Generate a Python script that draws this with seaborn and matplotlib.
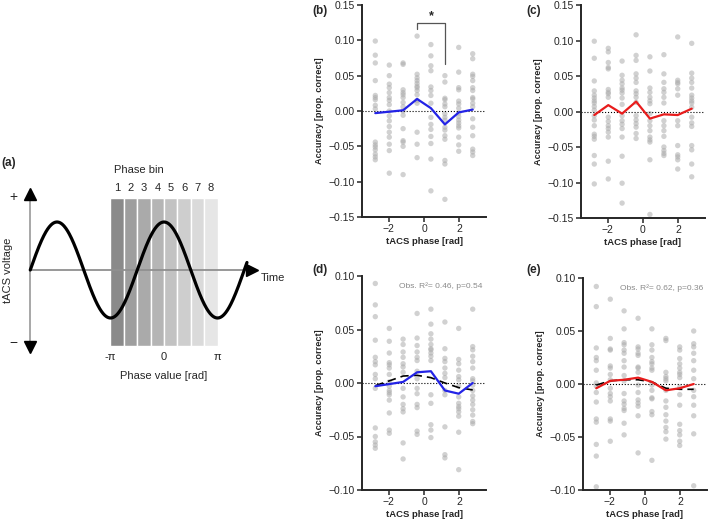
import numpy as np
import pandas as pd
import matplotlib
matplotlib.use('Agg')
import matplotlib.pyplot as plt
import seaborn as sns

# phase bin centres (rad) and schematic bin shading
phase_bins = [-2.75, -1.96, -1.18, -0.39, 0.39, 1.18, 1.96, 2.75]
bin_labels = ['1', '2', '3', '4', '5', '6', '7', '8']
bin_grays = ['#8a8a8a', '#9e9e9e', '#aaaaaa', '#b5b5b5', '#c2c2c2', '#cecece', '#dadada', '#e6e6e6']

# (b) single participants per phase bin, and group mean
b_points = [
    [0.099, 0.079, 0.068, 0.043, 0.022, 0.019, 0.016, 0.008, 0.003, -0.044, -0.048, -0.051, -0.055, -0.061, -0.065, -0.069],
    [0.065, 0.050, 0.038, 0.033, 0.026, 0.019, 0.015, 0.009, 0.0, -0.007, -0.014, -0.022, -0.030, -0.037, -0.047, -0.056, -0.088],
    [0.068, 0.066, 0.030, 0.026, 0.023, 0.019, 0.012, 0.006, 0.0, -0.006, -0.025, -0.042, -0.044, -0.050, -0.090],
    [0.106, 0.052, 0.047, 0.043, 0.039, 0.035, 0.033, 0.029, 0.023, 0.015, 0.011, -0.030, -0.047, -0.066],
    [0.094, 0.078, 0.064, 0.057, 0.034, 0.029, 0.022, 0.011, -0.009, -0.019, -0.026, -0.036, -0.046, -0.068, -0.113],
    [0.050, 0.041, 0.018, 0.016, 0.010, 0.006, -0.004, -0.009, -0.013, -0.023, -0.027, -0.035, -0.040, -0.070, -0.075, -0.125],
    [0.090, 0.055, 0.033, 0.030, 0.014, 0.010, 0.004, -0.003, -0.008, -0.013, -0.017, -0.021, -0.024, -0.037, -0.048, -0.057],
    [0.081, 0.074, 0.052, 0.049, 0.043, 0.033, 0.029, 0.019, 0.017, 0.011, 0.006, -0.011, -0.023, -0.035, -0.054, -0.058, -0.063],
]
b_mean = [-0.003, -0.001, 0.001, 0.017, 0.004, -0.019, -0.002, 0.002]

# (c)
c_points = [
    [0.099, 0.075, 0.043, 0.029, 0.023, 0.019, 0.015, 0.012, 0.007, 0.002, -0.006, -0.012, -0.020, -0.032, -0.035, -0.039, -0.062, -0.074, -0.102],
    [0.089, 0.084, 0.069, 0.062, 0.060, 0.031, 0.027, 0.025, 0.020, -0.008, -0.014, -0.020, -0.024, -0.029, -0.036, -0.070, -0.095],
    [0.071, 0.051, 0.044, 0.039, 0.033, 0.030, 0.026, 0.019, 0.010, -0.006, -0.013, -0.018, -0.024, -0.036, -0.063, -0.101, -0.129],
    [0.108, 0.079, 0.072, 0.053, 0.047, 0.041, 0.029, 0.025, 0.020, 0.013, -0.006, -0.012, -0.017, -0.022, -0.031, -0.038],
    [0.077, 0.057, 0.033, 0.027, 0.020, 0.015, 0.011, -0.003, -0.013, -0.020, -0.027, -0.036, -0.040, -0.043, -0.068, -0.145],
    [0.080, 0.053, 0.041, 0.032, 0.027, 0.020, 0.012, -0.013, -0.020, -0.027, -0.035, -0.050, -0.055, -0.059, -0.062],
    [0.105, 0.044, 0.041, 0.039, 0.032, 0.023, -0.013, -0.020, -0.048, -0.061, -0.064, -0.068, -0.081],
    [0.096, 0.054, 0.047, 0.041, 0.033, 0.023, 0.019, 0.015, 0.012, 0.006, -0.008, -0.016, -0.021, -0.048, -0.054, -0.074, -0.092],
]
c_mean = [-0.005, 0.009, -0.003, 0.014, -0.010, -0.004, -0.005, 0.004]

# (d)
d_points = [
    [0.093, 0.073, 0.062, 0.040, 0.024, 0.020, 0.017, 0.008, 0.004, -0.005, -0.042, -0.050, -0.055, -0.058, -0.061],
    [0.051, 0.039, 0.028, 0.019, 0.017, 0.014, 0.008, 0.001, -0.003, -0.007, -0.009, -0.011, -0.016, -0.028, -0.044, -0.047],
    [0.041, 0.036, 0.029, 0.024, 0.018, 0.015, 0.010, -0.005, -0.013, -0.020, -0.024, -0.027, -0.056, -0.071],
    [0.065, 0.042, 0.035, 0.029, 0.024, 0.021, 0.011, 0.004, -0.005, -0.010, -0.020, -0.023, -0.045, -0.048],
    [0.069, 0.055, 0.046, 0.041, 0.036, 0.032, 0.031, 0.028, 0.025, 0.021, -0.011, -0.019, -0.039, -0.044, -0.051],
    [0.057, 0.032, 0.023, 0.020, 0.014, 0.009, 0.005, -0.007, -0.011, -0.041, -0.067, -0.070],
    [0.051, 0.022, 0.018, 0.012, 0.006, 0.003, -0.003, -0.013, -0.019, -0.022, -0.024, -0.027, -0.031, -0.046, -0.081],
    [0.069, 0.034, 0.031, 0.025, 0.020, 0.014, 0.004, 0.002, -0.002, -0.007, -0.012, -0.016, -0.020, -0.025, -0.030, -0.036, -0.038],
]
d_mean = [-0.003, -0.001, 0.001, 0.010, 0.011, -0.007, -0.010, 0.000]
d_fit = [-0.0025, 0.002, 0.0065, 0.0072, 0.005, 0.000, -0.0043, -0.0065]
d_stats = 'Obs. R²= 0.46, p=0.54'

# (e)
e_points = [
    [0.092, 0.073, 0.034, 0.025, 0.022, 0.013, 0.001, -0.002, -0.008, -0.017, -0.033, -0.036, -0.057, -0.068, -0.097],
    [0.080, 0.043, 0.033, 0.032, 0.017, 0.015, 0.009, 0.004, -0.004, -0.009, -0.012, -0.016, -0.033, -0.035, -0.054],
    [0.069, 0.052, 0.039, 0.037, 0.032, 0.029, 0.022, 0.016, 0.008, 0.003, -0.009, -0.016, -0.019, -0.023, -0.025, -0.037, -0.048],
    [0.062, 0.035, 0.033, 0.029, 0.027, 0.016, 0.015, 0.011, -0.001, -0.008, -0.015, -0.018, -0.021, -0.030, -0.065],
    [0.052, 0.037, 0.032, 0.025, 0.021, 0.019, 0.015, 0.013, -0.001, -0.006, -0.013, -0.014, -0.026, -0.029, -0.072],
    [0.043, 0.041, 0.011, 0.007, 0.005, 0.003, -0.006, -0.016, -0.022, -0.029, -0.035, -0.041, -0.045, -0.052],
    [0.035, 0.032, 0.024, 0.019, 0.015, 0.011, 0.009, 0.006, -0.003, -0.010, -0.020, -0.038, -0.044, -0.048, -0.054, -0.058],
    [0.050, 0.038, 0.035, 0.029, 0.022, 0.013, 0.005, -0.006, -0.012, -0.020, -0.030, -0.047, -0.096],
]
e_mean = [-0.004, 0.003, 0.004, 0.006, 0.002, -0.006, -0.004, 0.000]
e_fit = [-0.001, 0.003, 0.004, 0.004, 0.002, -0.004, -0.005, -0.005]
e_stats = 'Obs. R²= 0.62, p=0.36'

# significance bracket between bin 4 and bin 6 in (b)
sig_pair = (3, 5)
sig_top, sig_left_end, sig_right_end = 0.1245, 0.116, 0.0665

sns.set_style('ticks')
plt.rcParams['font.family'] = ['Liberation Sans', 'DejaVu Sans']
plt.rcParams['axes.unicode_minus'] = True

fig = plt.figure(figsize=(7.09, 5.2), dpi=100)


def to_frame(points):
    rows = [(phase_bins[i], v) for i, vals in enumerate(points) for v in vals]
    return pd.DataFrame(rows, columns=['phase', 'acc'])


def draw_panel(rect, points, mean, color, lim, step, fit=None, stats=None):
    ax = fig.add_axes(rect)
    df = to_frame(points)
    sns.scatterplot(data=df, x='phase', y='acc', ax=ax, color='#acacac', alpha=0.55,
                    s=15, edgecolor='none', zorder=1, legend=False)
    ax.axhline(0, color='k', ls=':', lw=0.8, zorder=2)
    if fit is not None:
        ax.plot(phase_bins, fit, color='k', ls=(0, (5, 3)), lw=1.2, zorder=3)
    sns.lineplot(x=phase_bins, y=mean, ax=ax, color=color, lw=1.6, zorder=4)
    ax.set_xlim(-3.5, 3.5)
    ax.set_ylim(-lim, lim)
    ax.set_xticks([-2, 0, 2])
    ax.set_yticks(np.arange(-lim, lim + step / 2, step))
    ax.set_xlabel('tACS phase [rad]', fontsize=6.8, fontweight='bold', labelpad=2)
    ax.set_ylabel('Accuracy [prop. correct]', fontsize=6.6, fontweight='bold')
    ax.yaxis.set_label_coords(-0.31, 0.5)
    ax.tick_params(labelsize=7.5, length=3.5, width=1.1, pad=1.5)
    for s in ['left', 'bottom']:
        ax.spines[s].set_linewidth(1.4)
    sns.despine(ax=ax)
    if stats is not None:
        ax.text(0.97, 0.97, stats, transform=ax.transAxes, ha='right', va='top',
                fontsize=6, color='#8a8a8a')
    return ax


W, H = 709.0, 520.0


def rect(left, top, right, bottom):
    return [left / W, 1 - bottom / H, (right - left) / W, (bottom - top) / H]


ax_b = draw_panel(rect(362, 5, 486, 217), b_points, b_mean, '#2323e6', 0.15, 0.05)
ax_c = draw_panel(rect(581, 5, 705, 218), c_points, c_mean, '#e81c1c', 0.15, 0.05)
ax_d = draw_panel(rect(362, 276, 486, 490), d_points, d_mean, '#2323e6', 0.10, 0.05,
                  fit=d_fit, stats=d_stats)
ax_e = draw_panel(rect(583, 278, 707, 490), e_points, e_mean, '#e81c1c', 0.10, 0.05,
                  fit=e_fit, stats=e_stats)

# significance bracket
x1, x2 = phase_bins[sig_pair[0]], phase_bins[sig_pair[1]]
ax_b.plot([x1, x1, x2, x2], [sig_left_end, sig_top, sig_top, sig_right_end],
          color='#555555', lw=0.9, zorder=5)
ax_b.text((x1 + x2) / 2, sig_top + 0.001, '*', ha='center', va='bottom',
          fontsize=9, fontweight='bold')

# panel letters
for lab, px, py in [('(b)', 312, 11), ('(c)', 526, 11), ('(d)', 312, 270), ('(e)', 526, 270)]:
    fig.text(px / W, 1 - py / H, lab, fontsize=8.5, fontweight='bold', ha='left', va='center')

# (a) schematic of tACS phase bins
ax_a = fig.add_axes(rect(0, 150, 310, 390))
ax_a.set_xlim(-9.63, 8.57)
ax_a.set_ylim(-2.5, 2.5)
ax_a.axis('off')

x0 = -2.5 * np.pi
bin_w = np.pi / 4
ax_a.bar(phase_bins, 3.08, bottom=-1.58, width=bin_w, color=bin_grays,
         edgecolor='white', linewidth=1.0, zorder=1)
ax_a.plot([x0, x0], [-1.6, 1.6], color='#a0a0a0', lw=1.3, zorder=2)
ax_a.plot([x0, 5.2], [0, 0], color='#909090', lw=1.3, zorder=2)
ax_a.plot(x0, 1.58, marker='^', color='k', ms=8, zorder=3)
ax_a.plot(x0, -1.6, marker='v', color='k', ms=8, zorder=3)
ax_a.plot(5.15, 0, marker='>', color='k', ms=8, zorder=3)

t = np.linspace(x0, 1.55 * np.pi, 500)
ax_a.plot(t, np.cos(t), color='k', lw=2.3, zorder=4)

for xb, lb in zip(phase_bins, bin_labels):
    ax_a.text(xb, 1.71, lb, ha='center', va='center', fontsize=8)
ax_a.text(-1.47, 2.08, 'Phase bin', ha='center', va='center', fontsize=8)
for xv, lv in [(-np.pi, '-π'), (0, '0'), (np.pi, 'π')]:
    ax_a.text(xv, -1.82, lv, ha='center', va='center', fontsize=8)
ax_a.text(0, -2.2, 'Phase value [rad]', ha='center', va='center', fontsize=8)
ax_a.text(6.4, -0.17, 'Time', ha='center', va='center', fontsize=8)
ax_a.text(-9.15, 0, 'tACS voltage', rotation=90, ha='center', va='center', fontsize=8)
ax_a.text(-8.87, 1.52, '+', ha='center', va='center', fontsize=10)
ax_a.text(-8.87, -1.52, '−', ha='center', va='center', fontsize=10)
ax_a.text(-9.57, 2.23, '(a)', ha='left', va='center', fontsize=8.5, fontweight='bold')

fig.savefig('out.png', dpi=100)
plt.close(fig)
